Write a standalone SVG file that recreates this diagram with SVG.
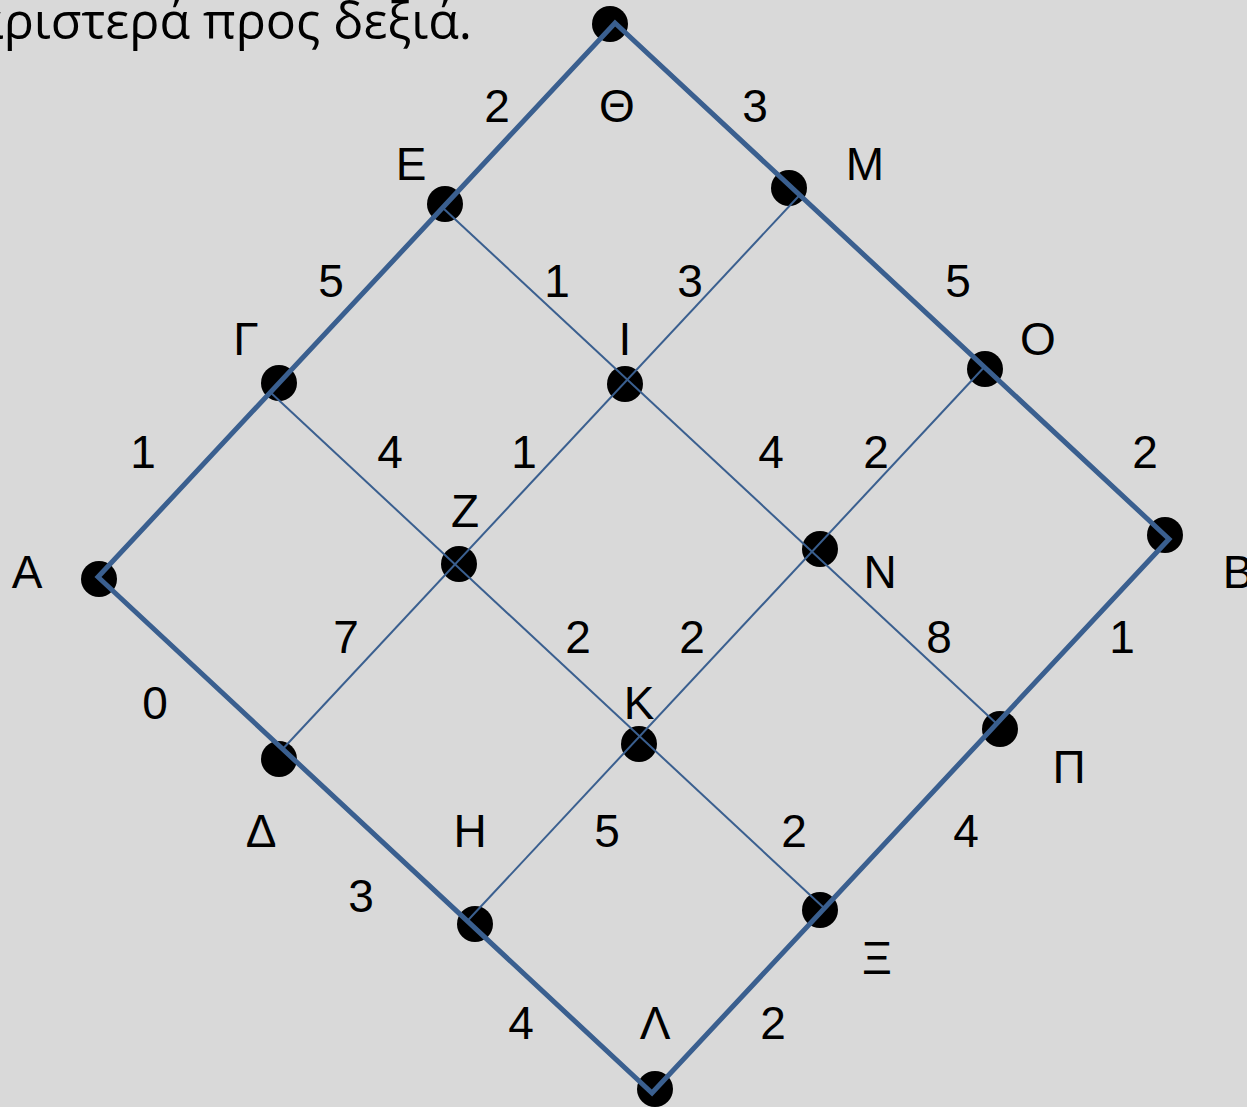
<svg xmlns="http://www.w3.org/2000/svg" width="1247" height="1107" viewBox="0 0 1247 1107">
<style>
.dot{fill:#000}
.lbl{font-family:"Liberation Sans",Arial,sans-serif;font-size:46px;fill:#000;text-anchor:middle}
.thick{fill:none;stroke:#3a5f8f;stroke-width:5;stroke-linejoin:miter}
.thin{fill:none;stroke:#3a5f8f;stroke-width:2}
.title{font-family:"Open Sans","Noto Sans",sans-serif;font-size:52px;fill:#000}
</style>
<rect x="0" y="0" width="1247" height="1107" fill="#d9d9d9"/>
<text class="title" x="-27" y="39" textLength="499" lengthAdjust="spacingAndGlyphs">αριστερά προς δεξιά.</text>
<g id="nodes">
<g id="node-Theta"><circle class="dot" cx="610" cy="24" r="18"/><text class="lbl" x="617" y="122">Θ</text></g>
<g id="node-E"><circle class="dot" cx="445" cy="204" r="18"/><text class="lbl" x="411" y="180">Ε</text></g>
<g id="node-M"><circle class="dot" cx="789" cy="188" r="18"/><text class="lbl" x="865" y="180">Μ</text></g>
<g id="node-Gamma"><circle class="dot" cx="279" cy="383" r="18"/><text class="lbl" x="246" y="355">Γ</text></g>
<g id="node-I"><circle class="dot" cx="625" cy="384" r="18"/><text class="lbl" x="625" y="355">Ι</text></g>
<g id="node-O"><circle class="dot" cx="985" cy="369" r="18"/><text class="lbl" x="1038" y="355">Ο</text></g>
<g id="node-A"><circle class="dot" cx="99" cy="579" r="18"/><text class="lbl" x="27" y="588">Α</text></g>
<g id="node-Z"><circle class="dot" cx="459" cy="564" r="18"/><text class="lbl" x="465" y="527">Ζ</text></g>
<g id="node-N"><circle class="dot" cx="820" cy="549" r="18"/><text class="lbl" x="880" y="588">Ν</text></g>
<g id="node-B"><circle class="dot" cx="1165" cy="535" r="18"/><text class="lbl" x="1238" y="588">Β</text></g>
<g id="node-Delta"><circle class="dot" cx="279" cy="759" r="18"/><text class="lbl" x="261" y="847">Δ</text></g>
<g id="node-K"><circle class="dot" cx="639" cy="744" r="18"/><text class="lbl" x="639" y="719">Κ</text></g>
<g id="node-Pi"><circle class="dot" cx="1000" cy="729" r="18"/><text class="lbl" x="1069" y="783">Π</text></g>
<g id="node-H"><circle class="dot" cx="475" cy="924" r="18"/><text class="lbl" x="470" y="847">Η</text></g>
<g id="node-Xi"><circle class="dot" cx="820" cy="910" r="18"/><text class="lbl" x="877" y="974">Ξ</text></g>
<g id="node-Lambda"><circle class="dot" cx="655" cy="1089" r="18"/><text class="lbl" x="655" y="1039">Λ</text></g>
</g>
<g id="connectors">
<path class="thick" d="M98,577 L615,23 L1169,539 L652,1093 Z"/>
<line class="thin" x1="282.7" y1="749" x2="799.7" y2="195"/>
<line class="thin" x1="467.3" y1="921" x2="984.3" y2="367"/>
<line class="thin" x1="270.3" y1="392.3" x2="824.3" y2="908.3"/>
<line class="thin" x1="442.7" y1="207.7" x2="996.7" y2="723.7"/>
<g id="weights">
<text class="lbl" x="497" y="122">2</text>
<text class="lbl" x="755" y="122">3</text>
<text class="lbl" x="331" y="297">5</text>
<text class="lbl" x="557" y="297">1</text>
<text class="lbl" x="690" y="297">3</text>
<text class="lbl" x="958" y="297">5</text>
<text class="lbl" x="143" y="468">1</text>
<text class="lbl" x="390" y="468">4</text>
<text class="lbl" x="524" y="468">1</text>
<text class="lbl" x="771" y="468">4</text>
<text class="lbl" x="876" y="468">2</text>
<text class="lbl" x="1145" y="468">2</text>
<text class="lbl" x="346" y="653">7</text>
<text class="lbl" x="578" y="653">2</text>
<text class="lbl" x="692" y="653">2</text>
<text class="lbl" x="939" y="653">8</text>
<text class="lbl" x="1122" y="653">1</text>
<text class="lbl" x="155" y="719">0</text>
<text class="lbl" x="607" y="847">5</text>
<text class="lbl" x="794" y="847">2</text>
<text class="lbl" x="966" y="847">4</text>
<text class="lbl" x="361" y="912">3</text>
<text class="lbl" x="521" y="1039">4</text>
<text class="lbl" x="773" y="1039">2</text>
</g>
</g>
</svg>
